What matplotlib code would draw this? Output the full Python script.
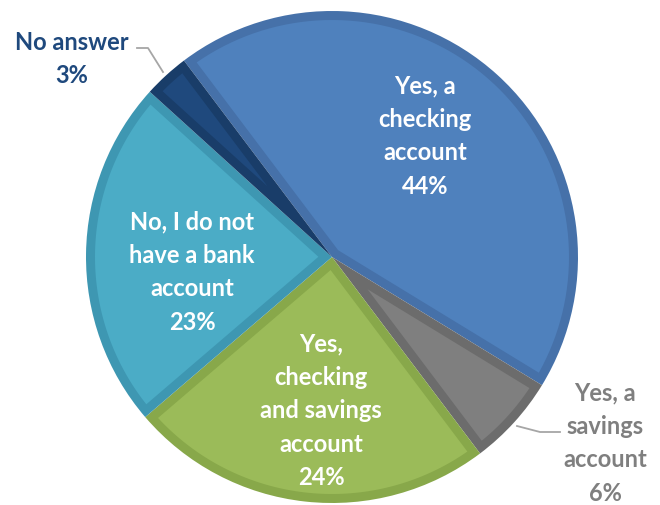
import numpy as np
import matplotlib.pyplot as plt
from matplotlib.patches import Polygon

# survey answers, clockwise from the top
labels = ["Yes, a\nchecking\naccount", "Yes, a\nsavings\naccount",
          "Yes,\nchecking\nand savings\naccount", "No, I do not\nhave a bank\naccount",
          "No answer"]
shares = [44, 6, 24, 23, 3]
fills = ["#4F81BD", "#7F7F7F", "#9BBB59", "#4BACC6", "#1F497D"]
rims = ["#4671A9", "#6C6C6C", "#88A84A", "#3E97B2", "#193D69"]

W, H = 660, 506
fig = plt.figure(figsize=(W / 100, H / 100), dpi=100)
ax = fig.add_axes([0, 0, 1, 1])

cx, cy, r = 332, H - 258, 246
wedges, _ = ax.pie(shares, colors=rims, startangle=127, counterclock=False,
                   center=(cx, cy), radius=r, frame=True,
                   wedgeprops=dict(linewidth=0))
ax.set_xlim(0, W)
ax.set_ylim(0, H)
ax.set_aspect("equal")
ax.axis("off")


def inset_wedge(t1, t2, d=9):
    # slice shrunk by d on every side (bevel look)
    half = np.radians(t2 - t1) / 2
    mid = np.radians(t1 + t2) / 2
    apex = d / np.sin(half)
    dd = np.degrees(np.arcsin(d / (r - d)))
    arc = np.radians(np.linspace(t1 + dd, t2 - dd, 80))
    xs = [cx + apex * np.cos(mid)] + list(cx + (r - d) * np.cos(arc))
    ys = [cy + apex * np.sin(mid)] + list(cy + (r - d) * np.sin(arc))
    return np.column_stack([xs, ys])


for w, c in zip(wedges, fills):
    ax.add_patch(Polygon(inset_wedge(w.theta1, w.theta2), closed=True,
                         facecolor=c, edgecolor="none"))

bold = dict(fontfamily="Lato", fontweight="bold", fontsize=17,
            ha="center", va="center", linespacing=1.55)

ax.text(425, H - 136, labels[0] + f"\n{shares[0]}%", color="white", **bold)
ax.text(192, H - 272, labels[3] + f"\n{shares[3]}%", color="white", **bold)
ax.text(321, H - 411, labels[2] + f"\n{shares[2]}%", color="white", **bold)
ax.text(605, H - 443, labels[1] + f"\n{shares[1]}%", color="#7F7F7F", **bold)
ax.text(72, H - 59, labels[4] + f"\n{shares[4]}%", color="#1F497D", **bold)

# leader lines for the two outside labels
ax.plot([137, 148, 163], [H - 49, H - 49, H - 73], color="#A6A6A6", lw=1.3)
ax.plot([517, 540, 560], [H - 427, H - 433, H - 433], color="#A6A6A6", lw=1.3)

fig.savefig("out.png", dpi=100)
